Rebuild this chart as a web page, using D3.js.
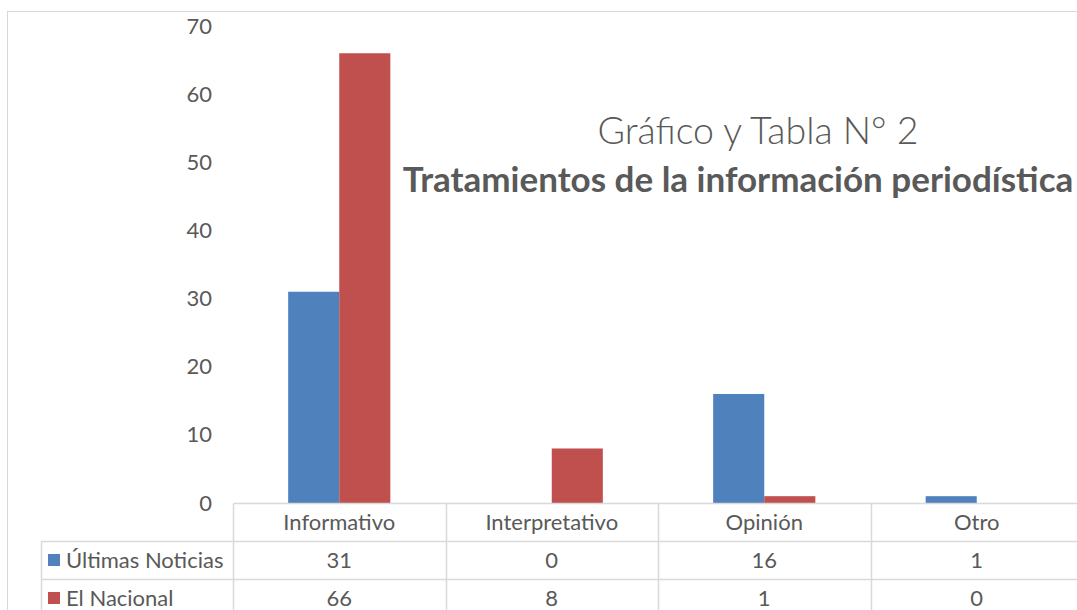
<html>
    <head>
        <title>Tratamientos de la información periodística</title>
        <style>
            body { margin: 0; background: #fff; }
            svg text { font-family: Lato, "Open Sans", sans-serif; fill: #595959; }
        </style>
    </head>
    <body>
        <svg></svg>

        <script src="https://d3js.org/d3.v7.min.js"></script>
        <script>
            // chart data
            const categories = ["Informativo", "Interpretativo", "Opinión", "Otro"];
            const seriesNames = ["Últimas Noticias", "El Nacional"];
            const ultimasNoticias = [31, 0, 16, 1];
            const elNacional = [66, 8, 1, 0];
            const yTicks = [0, 10, 20, 30, 40, 50, 60, 70];
            const seriesColors = ["#4F81BD", "#C0504D"];

            window.onload = function() {
                const width = 1077;
                const height = 610;
                const gridColor = "#d9d9d9";
                const fontSize = "22px";

                const svg = d3.select("svg")
                    .attr("width", width)
                    .attr("height", height);

                // outer chart frame (runs off the right and bottom)
                svg.append("rect")
                    .attr("x", 7.5).attr("y", 11.5)
                    .attr("width", width + 20).attr("height", height + 20)
                    .attr("fill", "none")
                    .attr("stroke", gridColor);

                const plot = {left: 233, right: 1083, top: 26, bottom: 503};
                const rowH = 38;

                const x0 = d3.scaleBand()
                    .domain(categories)
                    .range([plot.left, plot.right]);

                const x1 = d3.scaleBand()
                    .domain(seriesNames)
                    .range([0, x0.bandwidth()])
                    .paddingInner(0)
                    .paddingOuter(1.08);

                const y = d3.scaleLinear()
                    .domain([0, 70])
                    .range([plot.bottom, plot.top]);

                const series = [ultimasNoticias, elNacional];
                const barData = [];
                categories.forEach(function(c, i) {
                    seriesNames.forEach(function(s, j) {
                        barData.push({cat: c, key: s, value: series[j][i], color: seriesColors[j]});
                    });
                });

                svg.append("g")
                    .selectAll("rect")
                    .data(barData)
                    .join("rect")
                    .attr("x", function(d) { return x0(d.cat) + x1(d.key); })
                    .attr("y", function(d) { return y(d.value); })
                    .attr("width", x1.bandwidth())
                    .attr("height", function(d) { return y(0) - y(d.value); })
                    .attr("fill", function(d) { return d.color; });

                // y axis, labels only
                const yAxis = svg.append("g")
                    .attr("transform", "translate(" + plot.left + ",0)")
                    .call(d3.axisLeft(y).tickValues(yTicks).tickSize(0).tickPadding(21));
                yAxis.select(".domain").remove();
                yAxis.selectAll("text")
                    .style("font-size", fontSize)
                    .style("fill", "#595959")
                    .style("font-family", "Lato, sans-serif");

                // data table
                const table = svg.append("g");
                const tableLeft = 40.5;
                const lines = [
                    [plot.left, plot.bottom, plot.right, plot.bottom],
                    [tableLeft, plot.bottom + rowH, plot.right, plot.bottom + rowH],
                    [tableLeft, plot.bottom + 2 * rowH, plot.right, plot.bottom + 2 * rowH],
                    [tableLeft, plot.bottom + rowH, tableLeft, height + 10]
                ];
                categories.forEach(function(c) {
                    lines.push([x0(c), plot.bottom, x0(c), height + 10]);
                });
                table.selectAll("line")
                    .data(lines)
                    .join("line")
                    .attr("x1", function(d) { return Math.round(d[0]) + 0.5; })
                    .attr("y1", function(d) { return Math.round(d[1]) + 0.5; })
                    .attr("x2", function(d) { return Math.round(d[2]) + 0.5; })
                    .attr("y2", function(d) { return Math.round(d[3]) + 0.5; })
                    .attr("stroke", gridColor)
                    .attr("stroke-width", 1.5);

                // category header
                table.selectAll("text.cat")
                    .data(categories)
                    .join("text")
                    .attr("class", "cat")
                    .attr("x", function(d) { return x0(d) + x0.bandwidth() / 2; })
                    .attr("y", plot.bottom + rowH / 2)
                    .attr("dy", "0.35em")
                    .attr("text-anchor", "middle")
                    .style("font-size", fontSize)
                    .text(function(d) { return d; });

                // value rows
                series.forEach(function(vals, j) {
                    const rowY = plot.bottom + (j + 1) * rowH + rowH / 2;
                    table.append("rect")
                        .attr("x", 48).attr("y", rowY - 6)
                        .attr("width", 12).attr("height", 12)
                        .attr("fill", seriesColors[j]);
                    table.append("text")
                        .attr("x", 66).attr("y", rowY)
                        .attr("dy", "0.35em")
                        .style("font-size", fontSize)
                        .text(seriesNames[j]);
                    table.selectAll("text.v" + j)
                        .data(vals)
                        .join("text")
                        .attr("class", "v" + j)
                        .attr("x", function(d, i) { return x0(categories[i]) + x0.bandwidth() / 2; })
                        .attr("y", rowY)
                        .attr("dy", "0.35em")
                        .attr("text-anchor", "middle")
                        .style("font-size", fontSize)
                        .text(function(d) { return d; });
                });

                // title
                svg.append("text")
                    .attr("x", 758).attr("y", 144)
                    .attr("text-anchor", "middle")
                    .style("font-size", "37.5px")
                    .style("font-weight", 300)
                    .text("Gráfico y Tabla N° 2");
                svg.append("text")
                    .attr("x", 738).attr("y", 192)
                    .attr("text-anchor", "middle")
                    .style("font-size", "35px")
                    .style("font-weight", "bold")
                    .text("Tratamientos de la información periodística");
            };
        </script>
    </body>
</html>
